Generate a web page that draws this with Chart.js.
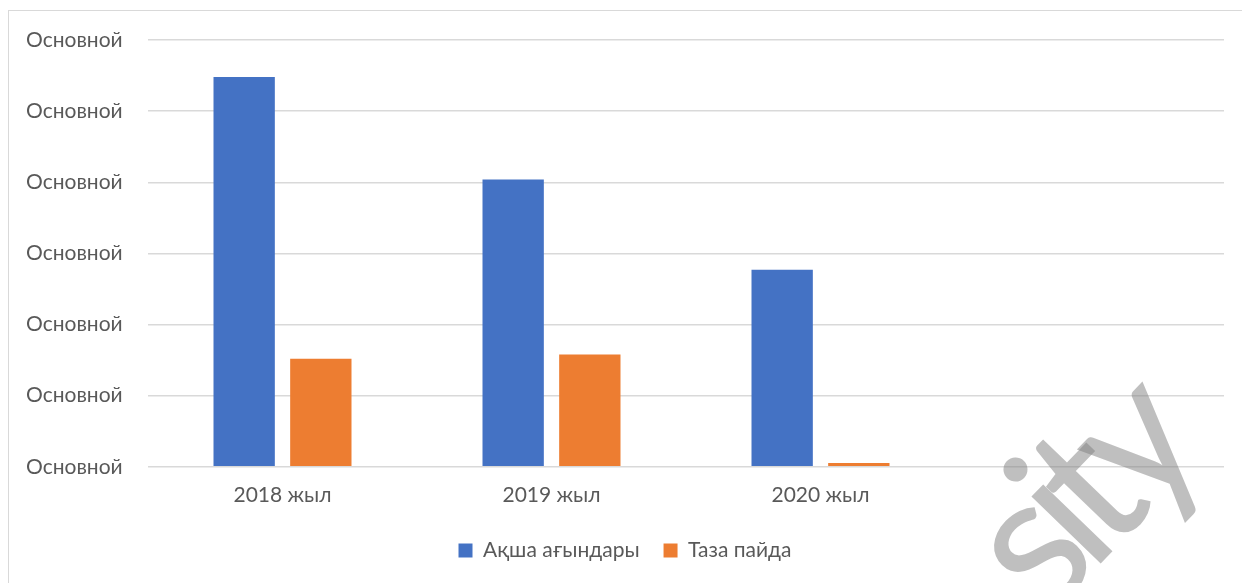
<!DOCTYPE html>
<html>
<head>
<meta charset="utf-8">
<script src="https://cdn.jsdelivr.net/npm/chart.js@4"></script>
<style>
  html, body { margin: 0; padding: 0; background: #fff; overflow: hidden; }
  #frame { position: absolute; left: 8px; top: 10px; width: 1400px; height: 700px; border: 1px solid #d9d9d9; }
  #wrap { position: absolute; left: 0; top: 0; width: 1242px; height: 583px; }
</style>
</head>
<body>
<div id="frame"></div>
<div id="wrap"><canvas id="chart"></canvas></div>
<script>
const categories = ["2018 жыл", "2019 жыл", "2020 жыл", ""];
const cashFlow = [5.48, 4.04, 2.77, null];
const netProfit = [1.52, 1.58, 0.055, null];
const tickLabel = "Основной";

Chart.defaults.font.family = "Lato, 'Open Sans', sans-serif";
Chart.defaults.font.size = 21;
Chart.defaults.color = "#595959";

// watermark in the lower right
const watermark = {
  id: "watermark",
  afterDatasetsDraw(chart) {
    const ctx = chart.ctx;
    ctx.save();
    ctx.translate(1046, 620);
    ctx.rotate(-46 * Math.PI / 180);
    ctx.font = "190px Lato, sans-serif";
    ctx.letterSpacing = "-18px";
    ctx.fillStyle = "rgba(128,128,128,0.5)";
    ctx.textBaseline = "alphabetic";
    ctx.fillText("sity", 0, 0);
    ctx.restore();
  }
};

new Chart(document.getElementById("chart").getContext("2d"), {
  type: "bar",
  data: {
    labels: categories,
    datasets: [
      { label: "Ақша ағындары", data: cashFlow, backgroundColor: "#4472c4" },
      { label: "Таза пайда", data: netProfit, backgroundColor: "#ed7d31" }
    ]
  },
  options: {
    responsive: true,
    maintainAspectRatio: false,
    animation: false,
    categoryPercentage: 0.57,
    barPercentage: 0.8,
    layout: { padding: { left: 26, right: 18, top: 40, bottom: 12 } },
    plugins: {
      tooltip: { enabled: false },
      legend: {
        position: "bottom",
        labels: {
          boxWidth: 14,
          boxHeight: 14,
          padding: 24,
          color: "#595959"
        }
      }
    },
    scales: {
      x: {
        grid: { display: false },
        border: { display: false },
        ticks: { padding: 8, color: "#595959" }
      },
      y: {
        min: 0,
        max: 6,
        afterFit(scale) { scale.width = 122; },
        grid: { color: "#d9d9d9", lineWidth: 1.5, drawTicks: false },
        border: { display: false },
        ticks: {
          stepSize: 1,
          color: "#595959",
          crossAlign: "far",
          padding: 0,
          callback: () => tickLabel
        }
      }
    }
  },
  plugins: [watermark]
});
</script>
</body>
</html>
